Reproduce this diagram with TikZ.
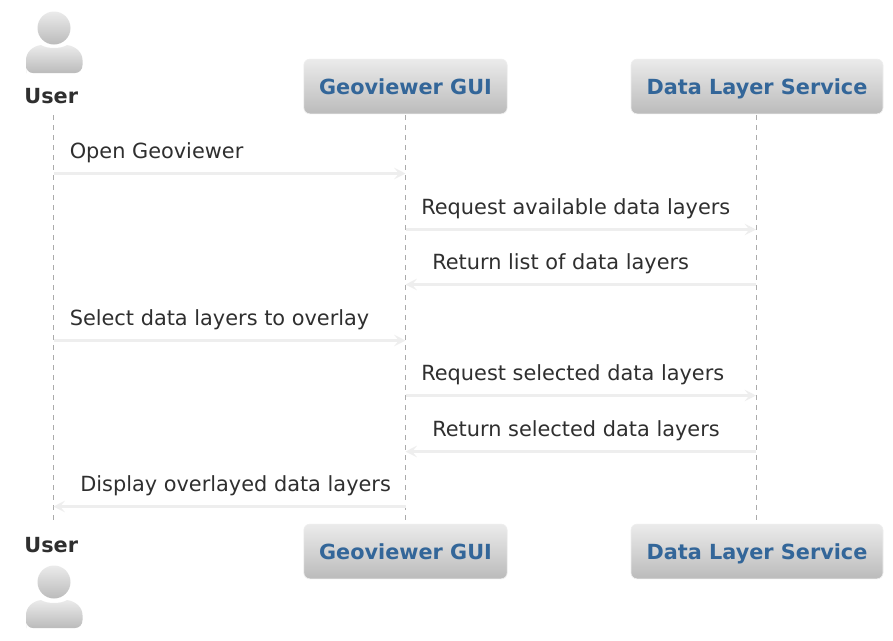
\documentclass[tikz,border=0pt]{standalone}
\usepackage{fontspec}
\setmainfont{DejaVu Sans}
\usetikzlibrary{arrows.meta,shadings}
\definecolor{txt}{HTML}{2F2F2F}
\definecolor{blu}{HTML}{336699}
\definecolor{lin}{HTML}{EEEEEE}
\definecolor{gtop}{HTML}{EBEBEB}
\definecolor{gbot}{HTML}{BBBBBB}
\definecolor{life}{HTML}{ABABAB}
\tikzset{
  partbox/.style={rectangle,rounded corners=4.5pt,draw=lin,line width=0.5pt,top color=gtop,bottom color=gbot,
    minimum height=41pt,inner sep=0pt,text height=11.6pt,text depth=0pt,text=blu,font=\fontsize{15.6}{18}\selectfont\bfseries},
  actorname/.style={anchor=base,inner sep=0pt,text=txt,font=\fontsize{15.6}{18}\selectfont\bfseries},
  msg/.style={draw=lin,line width=2.4pt,-{Stealth[length=8.5pt,width=8.5pt,inset=3.5pt,fill=lin]}},
  msgtext/.style={anchor=base west,inner sep=0pt,text=txt,font=\fontsize{15.65}{18}\selectfont},
  lifeline/.style={draw=life,line width=0.75pt,dash pattern=on 4pt off 3.5pt},
  figure/.style={top color=gtop,bottom color=gbot,draw=none}
}
\begin{document}
\begin{tikzpicture}[x=0.75pt,y=-0.75pt]
\useasboundingbox (0,0) rectangle (893,640);
\fill[white] (0,0) rectangle (893,640);
% lifeline anchors
\coordinate (uT) at (53.5,115);
\coordinate (uB) at (53.5,524);
\coordinate (gT) at (405.5,115);
\coordinate (gB) at (405.5,524);
\coordinate (dT) at (756,115);
\coordinate (dB) at (756,524);
\draw[lifeline] (uT) -- (uB);
\draw[lifeline] (gT) -- (gB);
\draw[lifeline] (dT) -- (dB);
% participants
\path[figure] (54,28) circle[radius=16.5];
\path[figure] (26,73) -- (26,60) .. controls (26,52) and (33,46) .. (41,45)
     .. controls (47,49) and (61,49) .. (67,45)
     .. controls (75,46) and (82.5,52) .. (82.5,60) -- (82.5,65)
     .. controls (82.5,70) and (79,73) .. (75,73) -- (33,73)
     .. controls (29,73) and (26,70) .. (26,65) -- cycle;
\path[figure] (54,582) circle[radius=16.5];
\path[figure] (26,628) -- (26,615) .. controls (26,607) and (33,601) .. (41,600)
     .. controls (47,604) and (61,604) .. (67,600)
     .. controls (75,601) and (82.5,607) .. (82.5,615) -- (82.5,620)
     .. controls (82.5,625) and (79,628) .. (75,628) -- (33,628)
     .. controls (29,628) and (26,625) .. (26,620) -- cycle;
\node[actorname] (userT) at (51.3,103) {User};
\node[actorname] (userB) at (51.3,552) {User};
\node[partbox,minimum width=152.5pt] (guiT) at (405.5,86.5) {Geoviewer GUI};
\node[partbox,minimum width=189pt] (dlsT) at (757,86.5) {Data Layer Service};
\node[partbox,minimum width=152.5pt] (guiB) at (405.5,551.5) {Geoviewer GUI};
\node[partbox,minimum width=189pt] (dlsB) at (757,551.5) {Data Layer Service};
% rows
\coordinate (r1) at (0,173.5);
\coordinate (r2) at (0,229.5);
\coordinate (r3) at (0,284.5);
\coordinate (r4) at (0,340.5);
\coordinate (r5) at (0,395.5);
\coordinate (r6) at (0,451.5);
\coordinate (r7) at (0,506.5);
\draw[msg] (uT |- r1) -- (gT |- r1);
\draw[msg] (gT |- r2) -- (dT |- r2);
\draw[msg] (dT |- r3) -- (gT |- r3);
\draw[msg] (uT |- r4) -- (gT |- r4);
\draw[msg] (gT |- r5) -- (dT |- r5);
\draw[msg] (dT |- r6) -- (gT |- r6);
\draw[msg] (gT |- r7) -- (uT |- r7);
\node[msgtext] (m1) at (69.5,158) {Open Geoviewer};
\node[msgtext] (m2) at (421,214) {Request available data layers};
\node[msgtext] (m3) at (432,269) {Return list of data layers};
\node[msgtext] (m4) at (69.5,325) {Select data layers to overlay};
\node[msgtext] (m5) at (421,380) {Request selected data layers};
\node[msgtext] (m6) at (432,436) {Return selected data layers};
\node[msgtext] (m7) at (80,491) {Display overlayed data layers};
\end{tikzpicture}
\end{document}
